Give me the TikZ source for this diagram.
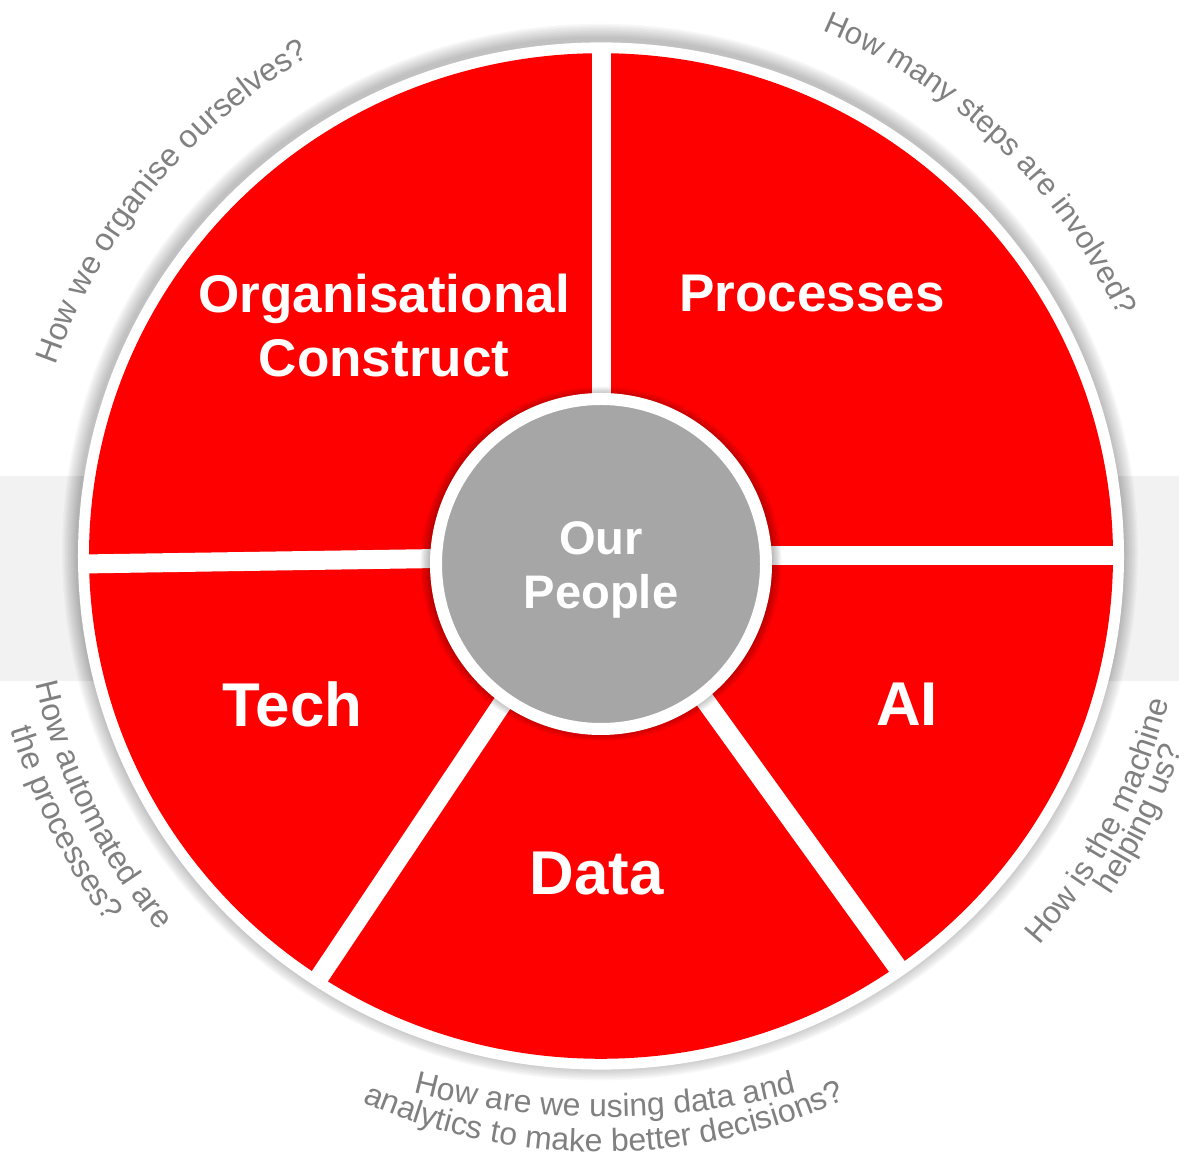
\documentclass[tikz,border=0pt]{standalone}
\usepackage{fontspec}
\setmainfont{Liberation Sans}
\usetikzlibrary{decorations.text}
\definecolor{wheelred}{HTML}{FF0000}
\definecolor{hubgray}{HTML}{A6A6A6}
\definecolor{bandgray}{HTML}{F2F2F2}
\definecolor{askgray}{HTML}{808080}
\newcommand\askfont{\color{askgray}\fontsize{9.1}{10}\selectfont}
\newcommand\askfontsm{\color{askgray}\fontsize{8.8}{10}\selectfont}

\begin{document}
\begin{tikzpicture}[
  gapline/.style={draw=white, line width=0.19cm},
  seglabel/.style={text=white, font=\bfseries\fontsize{15.1}{18.2}\selectfont, align=center, inner sep=0pt},
  biglabel/.style={seglabel, font=\bfseries\fontsize{17.6}{20}\selectfont},
  hub/.style={circle, fill=hubgray, draw=white, line width=0.12cm, minimum size=3.30cm, inner sep=0pt},
  hublabel/.style={seglabel, font=\bfseries\fontsize{13.4}{15.6}\selectfont},
  question/.style={decorate, decoration={text along path, text align=center, text={|\askfont|#1}}},
  smallquestion/.style={decorate, decoration={text along path, text align=center, text={|\askfontsm|#1}}},
]
\useasboundingbox (-6.01,-5.97) rectangle (5.78,5.56);

% background band
\fill[bandgray] (-6.01,0.80) rectangle (5.78,-1.25);

% wheel
\begin{scope}[yscale=0.982]
  \foreach \k in {1,...,10}
    \fill[black, opacity=0.027] (-0.01,0.04) circle (5.23+0.015*\k);
  \fill[white] (0,0) circle (5.23);
  \fill[wheelred] (0,0) circle (5.12);
  \foreach \a in {90, 0, 180.9, 236.7, 305.3}
    \draw[gapline] (0,0) -- (\a:5.2);
  \foreach \k in {1,...,8}
    \fill[black, opacity=0.035] (0,-0.08) circle (1.71+0.012*\k);
\end{scope}

\node[hub] (people) at (0,-0.08) {};
\node[hublabel] (ourpeople) at (0,-0.14) {Our\\People};

\node[seglabel] (org) at (-2.17,2.30) {Organisational\\Construct};
\node[seglabel] (proc) at (2.11,2.62) {Processes};
\node[biglabel] (tech) at (-3.085,-1.485) {Tech};
\node[biglabel] (ai) at (3.06,-1.485) {AI};
\node[biglabel] (data) at (-0.045,-3.18) {Data};

% questions round the rim
\path[question={How we organise ourselves?}] (172.5:5.78) arc[start angle=172.5, end angle=108.5, radius=5.78];
\path[smallquestion={How many steps are involved?}] (79:5.70) arc[start angle=79, end angle=13, radius=5.70];
\path[question={How automated are}] (186:5.80) arc[start angle=186, end angle=227, radius=5.80];
\path[question={the processes?}] (186:6.15) arc[start angle=186, end angle=227, radius=6.15];
\path[question={How is the machine}] (-49:5.86) arc[start angle=-49, end angle=-7, radius=5.86];
\path[question={helping us?}] (-47:6.12) arc[start angle=-47, end angle=-5, radius=6.12];
\begin{scope}[shift={(0.04,2.04)}]
  \path[question={How are we using data and}] (-108:7.65) arc[start angle=-108, end angle=-72, radius=7.65];
\end{scope}
\path[question={analytics to make better decisions?}] (-117.2:5.96) arc[start angle=-117.2, end angle=-62.2, radius=5.96];
\end{tikzpicture}
\end{document}
